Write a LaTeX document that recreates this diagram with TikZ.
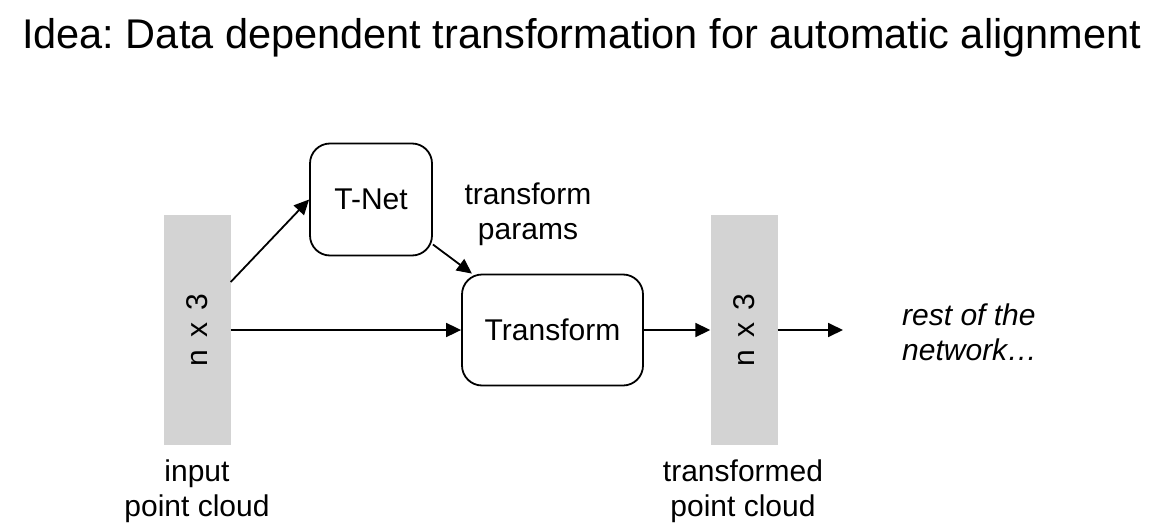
\documentclass[tikz,border=0pt]{standalone}
\usepackage{fontspec}
\setmainfont{Liberation Sans}
\usetikzlibrary{arrows.meta,positioning}
\frenchspacing

\definecolor{barfill}{RGB}{211,211,211}
\newcommand{\dimlabel}{\rotatebox{90}{n\hspace{0.4em}x\hspace{0.4em}3}}

\tikzset{
	body/.style={font=\fontsize{30}{35}\selectfont},
	bar/.style={body,fill=barfill,minimum width=67pt,minimum height=230pt,inner sep=0pt},
	block/.style={body,draw,line width=1.8pt,rounded corners=20pt,inner sep=0pt},
	flow/.style={line width=1.8pt,-{Triangle[length=15pt,width=14pt]}},
	caption/.style={body,align=center,inner sep=0pt}
}

\begin{document}
\begin{tikzpicture}[x=1pt,y=1pt,on grid]
		\useasboundingbox (0,0) rectangle (1156,-530);

		\node[anchor=base west,inner sep=0pt,font=\fontsize{41.5}{48}\selectfont]	(title)	at (22,-48)	{Idea: Data dependent transformation for automatic alignment};

		\node[bar]				(inbar)		at (197,-330)							{\dimlabel};
		\node[block,minimum width=181pt,minimum height=111pt]	(xform)	[right=355.5pt of inbar]	{Transform};
		\node[block,minimum width=122pt,minimum height=112pt]	(tnet)	[above left=130.5pt and 181.5pt of xform]	{T-Net};
		\node[bar]				(outbar)	[right=191.5pt of xform]				{\dimlabel};
		\coordinate				(next)		at (843,-330);

		\node[caption]			(params)	at (528,-214)							{transform\\params};
		\node[caption,anchor=north]	(inlbl)		at (197,-460)					{input\\point cloud};
		\node[caption,anchor=north]	(outlbl)	at (743,-460)					{transformed\\point cloud};
		\node[body,align=left,anchor=west,inner sep=0pt,font=\fontsize{30}{35}\selectfont\itshape]	(rest)	at (902,-332)	{rest of the\\network…};

		\draw[flow]	([yshift=48pt]inbar.east)	--	(tnet.west);
		\draw[flow]	(inbar)		--	(xform);
		\draw[flow]	(tnet.-36)	--	(xform.145);
		\draw[flow]	(xform)		--	(outbar);
		\draw[flow]	(outbar)	--	(next);
	\end{tikzpicture}
\end{document}
